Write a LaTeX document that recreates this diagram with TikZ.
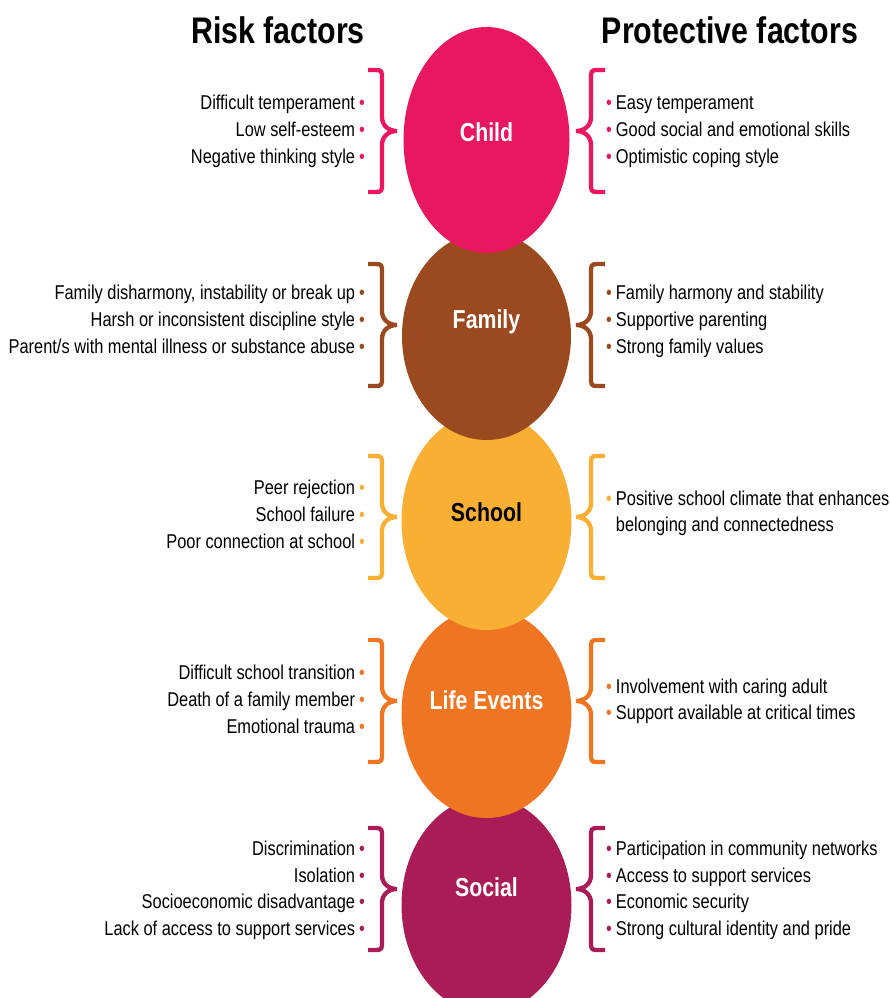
\documentclass[tikz,border=0pt]{standalone}
\usepackage{fontspec}
\setmainfont{Liberation Sans}[FakeStretch=0.82]
\usetikzlibrary{shapes.geometric}

\definecolor{cchild}{RGB}{233,22,96}
\definecolor{cfamily}{RGB}{155,74,31}
\definecolor{cschool}{RGB}{249,174,52}
\definecolor{clife}{RGB}{240,117,35}
\definecolor{csocial}{RGB}{170,28,85}

\newcommand\bul[1]{\textcolor{#1}{•}}

\tikzset{
  blob/.style={ellipse, inner sep=0pt, draw=none},
  blobtext/.style={font=\bfseries\fontsize{26}{30}\selectfont, inner sep=0pt},
  heading/.style={font=\bfseries\fontsize{37}{40}\selectfont, anchor=base, inner sep=0pt},
  risk/.style={font=\fontsize{20}{24}\selectfont, anchor=base east, inner sep=0pt},
  prot/.style={font=\fontsize{20}{24}\selectfont, anchor=base west, inner sep=0pt},
  cbrace/.pic={
    \draw[line width=4.3pt]
      (-29,-61) -- (-21,-61) .. controls (-15,-61) and (-15,-59) .. (-15,-53)
      -- (-15,-14) .. controls (-15,-5) and (-8,0) .. (0,0)
      .. controls (-8,0) and (-15,5) .. (-15,14)
      -- (-15,53) .. controls (-15,59) and (-15,61) .. (-21,61) -- (-29,61);
  }
}

\begin{document}
\begin{tikzpicture}[x=1pt,y=-1pt]
\useasboundingbox (0,0) rectangle (890,998);
\fill[white] (0,0) rectangle (890,998);

% headings
\node[heading] (riskhead) at (278,44) {Risk factors};
\node[heading] (prothead) at (730,44) {Protective factors};

% stacked ellipses, lowest first so each one overlaps the next
\node[blob, fill=csocial, minimum width=170pt, minimum height=216pt] (social) at (486.5,905) {};
\node[blob, fill=clife,   minimum width=170pt, minimum height=210pt] (life)   at (486.5,713) {};
\node[blob, fill=cschool, minimum width=170pt, minimum height=218pt] (school) at (486.5,521) {};
\node[blob, fill=cfamily, minimum width=169pt, minimum height=208pt] (family) at (486.5,336) {};
\node[blob, fill=cchild,  minimum width=166pt, minimum height=226pt] (child)  at (486.5,140) {};

\node[blobtext, text=white] (childlbl)  at (486.5,132) {Child};
\node[blobtext, text=white] (familylbl) at (486.5,322) {Family};
\node[blobtext, text=black] (schoollbl) at (486.5,512) {School};
\node[blobtext, text=white] (lifelbl)   at (486.5,700) {Life Events};
\node[blobtext, text=white] (sociallbl) at (486.5,887) {Social};

% braces
\pic[cchild]              at (397,131) {cbrace};
\pic[cchild, xscale=-1]   at (576,131) {cbrace};
\pic[cfamily]             at (397,325) {cbrace};
\pic[cfamily, xscale=-1]  at (576,325) {cbrace};
\pic[cschool]             at (397,517) {cbrace};
\pic[cschool, xscale=-1]  at (576,517) {cbrace};
\pic[clife]               at (397,701) {cbrace};
\pic[clife, xscale=-1]    at (576,701) {cbrace};
\pic[csocial]             at (397,889) {cbrace};
\pic[csocial, xscale=-1]  at (576,889) {cbrace};

% child
\node[risk] (rc1) at (365,109) {Difficult temperament\hspace{4pt}\bul{cchild}};
\node[risk] (rc2) at (365,136) {Low self-esteem\hspace{4pt}\bul{cchild}};
\node[risk] (rc3) at (365,163) {Negative thinking style\hspace{4pt}\bul{cchild}};
\node[prot] (pc1) at (606,109) {\bul{cchild}\hspace{4pt}Easy temperament};
\node[prot] (pc2) at (606,136) {\bul{cchild}\hspace{4pt}Good social and emotional skills};
\node[prot] (pc3) at (606,163) {\bul{cchild}\hspace{4pt}Optimistic coping style};

% family
\node[risk] (rf1) at (365,299) {Family disharmony, instability or break up\hspace{4pt}\bul{cfamily}};
\node[risk] (rf2) at (365,326) {Harsh or inconsistent discipline style\hspace{4pt}\bul{cfamily}};
\node[risk] (rf3) at (365,353) {Parent/s with mental illness or substance abuse\hspace{4pt}\bul{cfamily}};
\node[prot] (pf1) at (606,299) {\bul{cfamily}\hspace{4pt}Family harmony and stability};
\node[prot] (pf2) at (606,326) {\bul{cfamily}\hspace{4pt}Supportive parenting};
\node[prot] (pf3) at (606,353) {\bul{cfamily}\hspace{4pt}Strong family values};

% school
\node[risk] (rs1) at (365,494) {Peer rejection\hspace{4pt}\bul{cschool}};
\node[risk] (rs2) at (365,521) {School failure\hspace{4pt}\bul{cschool}};
\node[risk] (rs3) at (365,548) {Poor connection at school\hspace{4pt}\bul{cschool}};
\node[prot] (ps1) at (606,505) {\bul{cschool}\hspace{4pt}Positive school climate that enhances};
\node[prot] (ps2) at (606,531) {\phantom{\bul{cschool}}\hspace{4pt}belonging and connectedness};

% life events
\node[risk] (rl1) at (365,679) {Difficult school transition\hspace{4pt}\bul{clife}};
\node[risk] (rl2) at (365,706) {Death of a family member\hspace{4pt}\bul{clife}};
\node[risk] (rl3) at (365,733) {Emotional trauma\hspace{4pt}\bul{clife}};
\node[prot] (pl1) at (606,693) {\bul{clife}\hspace{4pt}Involvement with caring adult};
\node[prot] (pl2) at (606,719) {\bul{clife}\hspace{4pt}Support available at critical times};

% social
\node[risk] (ro1) at (365,855) {Discrimination\hspace{4pt}\bul{csocial}};
\node[risk] (ro2) at (365,882) {Isolation\hspace{4pt}\bul{csocial}};
\node[risk] (ro3) at (365,908) {Socioeconomic disadvantage\hspace{4pt}\bul{csocial}};
\node[risk] (ro4) at (365,935) {Lack of access to support services\hspace{4pt}\bul{csocial}};
\node[prot] (po1) at (606,855) {\bul{csocial}\hspace{4pt}Participation in community networks};
\node[prot] (po2) at (606,882) {\bul{csocial}\hspace{4pt}Access to support services};
\node[prot] (po3) at (606,908) {\bul{csocial}\hspace{4pt}Economic security};
\node[prot] (po4) at (606,935) {\bul{csocial}\hspace{4pt}Strong cultural identity and pride};
\end{tikzpicture}
\end{document}
